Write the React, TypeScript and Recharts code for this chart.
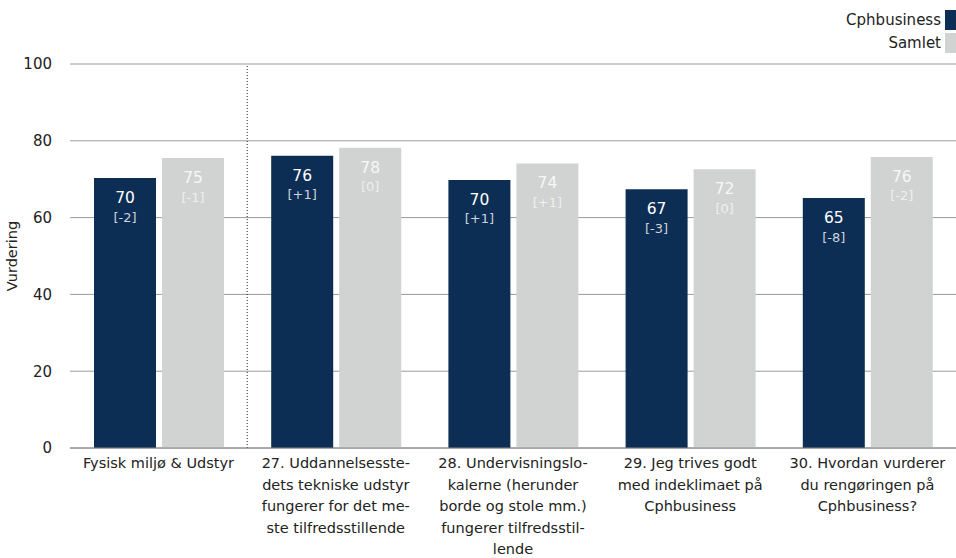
import React from "react";
import {
  BarChart,
  Bar,
  XAxis,
  YAxis,
  CartesianGrid,
  ReferenceLine,
  LabelList,
  Legend,
} from "recharts";

const categories = [
  "Fysisk miljø & Udstyr",
  "27. Uddannelsesstedets tekniske udstyr fungerer for det meste tilfredsstillende",
  "28. Undervisningslokalerne (herunder borde og stole mm.) fungerer tilfredsstillende",
  "29. Jeg trives godt med indeklimaet på Cphbusiness",
  "30. Hvordan vurderer du rengøringen på Cphbusiness?",
];

// wrapped as in the original
const tickLines = [
  ["Fysisk miljø & Udstyr"],
  ["27. Uddannelsesste-", "dets tekniske udstyr", "fungerer for det me-", "ste tilfredsstillende"],
  ["28. Undervisningslo-", "kalerne (herunder", "borde og stole mm.)", "fungerer tilfredsstil-", "lende"],
  ["29. Jeg trives godt", "med indeklimaet på", "Cphbusiness"],
  ["30. Hvordan vurderer", "du rengøringen på", "Cphbusiness?"],
];

const cphbusiness = [70.3, 76.1, 69.8, 67.4, 65.1];
const samlet = [75.5, 78.2, 74.1, 72.6, 75.8];
const cphLabels = ["70", "76", "70", "67", "65"];
const samletLabels = ["75", "78", "74", "72", "76"];
const cphDelta = ["[-2]", "[+1]", "[+1]", "[-3]", "[-8]"];
const samletDelta = ["[-1]", "[0]", "[+1]", "[0]", "[-2]"];
const yTicks = [0, 20, 40, 60, 80, 100];

const DARK = "#0c2e54";
const LIGHT = "#d0d3d2";
const FONT = "'DejaVu Sans', Verdana, sans-serif";

const data = categories.map((name, i) => ({
  name,
  cph: cphbusiness[i],
  samlet: samlet[i],
}));

const CategoryTick = (props: any) => {
  const { x, y, payload } = props;
  const lines = tickLines[payload.index] || [payload.value];
  return (
    <text x={x} y={y} textAnchor="middle" fontFamily={FONT} fontSize={14.5} fill="#222">
      {lines.map((line: string, i: number) => (
        <tspan key={i} x={x} y={y + 12 + i * 21.5}>
          {line}
        </tspan>
      ))}
    </text>
  );
};

const makeBarLabel =
  (labels: string[], deltas: string[], numColor: string, deltaColor: string) => (props: any) => {
    const { x, y, width, index } = props;
    const cx = x + width / 2;
    return (
      <g fontFamily={FONT}>
        <text x={cx} y={y + 20} textAnchor="middle" dominantBaseline="central" fontSize={15.5} fill={numColor}>
          {labels[index]}
        </text>
        <text x={cx} y={y + 39} textAnchor="middle" dominantBaseline="central" fontSize={13} fill={deltaColor}>
          {deltas[index]}
        </text>
      </g>
    );
  };

const LegendBox = () => (
  <div style={{ fontFamily: FONT, fontSize: 15, color: "#222" }}>
    {[
      { label: "Cphbusiness", color: DARK },
      { label: "Samlet", color: LIGHT },
    ].map((item) => (
      <div
        key={item.label}
        style={{ display: "flex", justifyContent: "flex-end", alignItems: "center", height: 23 }}
      >
        <span style={{ marginRight: 4 }}>{item.label}</span>
        <span style={{ display: "inline-block", width: 11, height: 20, background: item.color }} />
      </div>
    ))}
  </div>
);

export default function App() {
  return (
    <div style={{ position: "absolute", left: 0, top: 0, width: 956, height: 558, background: "#fff" }}>
      <BarChart
        width={956}
        height={558}
        data={data}
        margin={{ top: 64, right: 0, bottom: 10, left: 0 }}
        barSize={62}
        barGap={6}
      >
        <CartesianGrid vertical={false} stroke="#9a9a9a" strokeWidth={1} />
        <XAxis
          dataKey="name"
          interval={0}
          height={100}
          tickLine={false}
          axisLine={{ stroke: "#888" }}
          tick={<CategoryTick />}
        />
        <YAxis
          domain={[0, 100]}
          ticks={yTicks}
          width={70}
          axisLine={false}
          tickLine={false}
          tick={{ fontSize: 15, fill: "#222", fontFamily: FONT }}
          tickMargin={12}
          label={{
            value: "Vurdering",
            angle: -90,
            position: "insideLeft",
            offset: 12,
            style: { textAnchor: "middle", fontSize: 14.5, fill: "#222", fontFamily: FONT },
          }}
        />
        <ReferenceLine x={categories[0]} position="end" stroke="#222" strokeDasharray="1 2" />
        <Legend
          layout="vertical"
          align="center"
          verticalAlign="middle"
          content={<LegendBox />}
          wrapperStyle={{ top: 8, right: 0, left: "auto", width: 200 }}
        />
        <Bar dataKey="cph" name="Cphbusiness" fill={DARK} isAnimationActive={false}>
          <LabelList dataKey="cph" content={makeBarLabel(cphLabels, cphDelta, "#ffffff", "#cdd3dc")} />
        </Bar>
        <Bar dataKey="samlet" name="Samlet" fill={LIGHT} isAnimationActive={false}>
          <LabelList dataKey="samlet" content={makeBarLabel(samletLabels, samletDelta, "#f7f7f7", "#efefef")} />
        </Bar>
      </BarChart>
    </div>
  );
}
